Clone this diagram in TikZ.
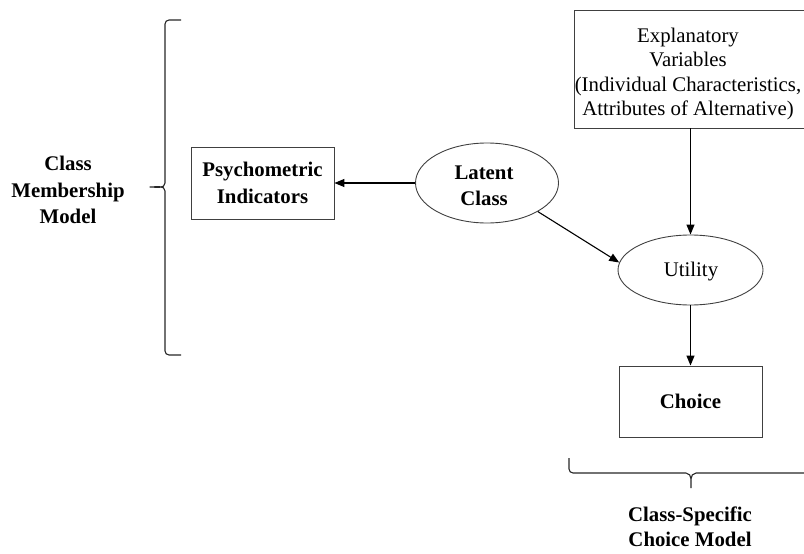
\documentclass[tikz,border=0pt]{standalone}
\usepackage{fontspec}
\setmainfont{Liberation Serif}
\usetikzlibrary{arrows.meta,shapes.geometric}
\tikzset{
  frame/.style={draw=black!75, line width=0.9pt},
  txt/.style={align=center, font=\fontsize{20.8}{26.5}\selectfont\bfseries, inner sep=0pt},
  txtr/.style={align=center, font=\fontsize{20.8}{24.5}\selectfont, inner sep=0pt},
  conn/.style={line width=1.1pt, black, -{Triangle[length=10pt,width=8pt]}},
  brace/.style={line width=1.1pt, black!85, line join=round}
}
\begin{document}
\begin{tikzpicture}[x=1pt,y=-1pt]
\useasboundingbox (0,0) rectangle (804,554);
% boxes
\node[frame, minimum width=232pt, minimum height=118pt, inner sep=0pt] (ev) at (690,69) {};
\node[txtr] (evt) at (688,74) {Explanatory\\Variables\\(Individual Characteristics,\\Attributes of Alternative)};
\node[frame, minimum width=143pt, minimum height=72pt, txt] (pi) at (262.5,183) {Psychometric\\Indicators};
\node[frame, minimum width=143pt, minimum height=71pt, txt] (ch) at (690.5,401.5) {Choice};
% ellipses
\node[frame, ellipse, minimum width=143pt, minimum height=80pt, inner sep=0pt] (lc) at (487,183) {};
\node[txt] at (484,186) {Latent\\Class};
\node[frame, ellipse, minimum width=145pt, minimum height=70pt, inner sep=0pt] (ut) at (690.5,270) {};
\node[txtr] at (691,272) {Utility};
% connectors
\draw[conn] (lc.west) -- (pi.east);
\draw[conn] (lc.south east) -- (ut.174);
\draw[conn] (ev.south -| ut.north) -- (ut.north);
\draw[conn] (ut.south) -- (ch.north);
% left brace
\coordinate (lbt) at (181,20);
\coordinate (lbb) at (181,355);
\coordinate (lbtip) at (150,187);
\draw[brace] (lbt) -- (169,20) to[out=180,in=90] (165,24) -- (165,183)
  to[out=-90,in=0] (lbtip) to[out=0,in=90] (165,191) -- (165,351)
  to[out=-90,in=180] (169,355) -- (lbb);
% bottom brace
\coordinate (bbl) at (569,458);
\coordinate (bbr) at (810,458);
\coordinate (bbtip) at (691,488);
\draw[brace] (bbl) -- (569,469) to[out=-90,in=180] (573,473) -- (686,473)
  to[out=0,in=90] (691,479) -- (bbtip) (691,479) to[out=90,in=180] (696,473) -- (806,473) -- (bbr);
% labels
\node[txt] (cmm) at (68,190) {Class\\Membership\\Model};
\node[txt, font=\fontsize{20.8}{25}\selectfont\bfseries] (csc) at (690,527) {Class-Specific\\Choice Model};
\end{tikzpicture}
\end{document}
